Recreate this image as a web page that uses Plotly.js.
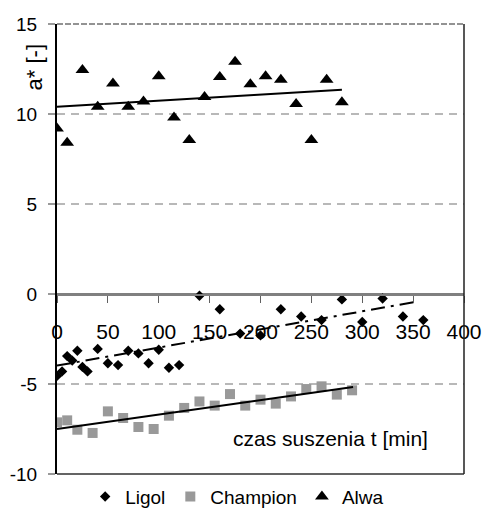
<!DOCTYPE html>
<html>
<head>
<meta charset="utf-8">
<script src="https://cdn.plot.ly/plotly-3.0.1.min.js"></script>
<style>html,body{margin:0;padding:0;background:#fff;}#chart{width:484px;height:511px;}</style>
</head>
<body>
<div id="chart"></div>
<script>
const seriesNames = ['Ligol', 'Champion', 'Alwa'];

const timeLigol = [0,5,10,15,20,25,30,40,50,60,70,80,90,100,110,120,140,160,180,200,220,240,260,280,300,320,340,360];
const aLigol = [-4.55,-4.3,-3.45,-3.7,-3.15,-4.05,-4.3,-3.05,-3.85,-3.95,-3.15,-3.3,-3.85,-3.1,-4.1,-3.95,-0.1,-0.85,-2.2,-2.3,-0.85,-1.25,-1.45,-0.3,-1.55,-0.25,-1.25,-1.45];

const timeChampion = [0,10,20,35,50,65,80,95,110,125,140,155,170,185,200,215,230,245,260,275,290];
const aChampion = [-7.13,-7.02,-7.54,-7.72,-6.52,-6.89,-7.39,-7.5,-6.76,-6.33,-5.97,-6.2,-5.56,-6.2,-5.87,-6.09,-5.69,-5.28,-5.13,-5.59,-5.35];

const timeAlwa = [0,10,25,40,55,70,85,100,115,130,145,160,175,190,205,220,235,250,265,280];
const aAlwa = [9.2,8.4,12.45,10.4,11.7,10.4,10.7,12.1,9.8,8.55,10.95,12.05,12.9,11.65,12.1,11.9,10.55,8.55,11.9,10.65];

// trend lines (end points)
const trendLigolT = [0, 352];
const trendLigolA = [-3.98, -0.44];
const trendChampionT = [0, 291];
const trendChampionA = [-7.5, -5.17];
const trendAlwaT = [0, 280];
const trendAlwaA = [10.4, 11.35];

const xTickVals = [0,50,100,150,200,250,300,350,400];
const xTickText = ['0','50','100','150','200','250','300','350','400'];
const yTickVals = [-10,-5,0,5,10,15];
const yTickText = ['-10','-5','0','5','10','15'];

const FONT = 'Arial, "Liberation Sans", sans-serif';

const traces = [
  {x: timeLigol, y: aLigol, name: seriesNames[0], type: 'scatter', mode: 'markers',
   marker: {symbol: 'diamond', size: 8, color: '#000000'}},
  {x: timeChampion, y: aChampion, name: seriesNames[1], type: 'scatter', mode: 'markers',
   marker: {symbol: 'square', size: 10, color: '#999999'}},
  {x: timeAlwa, y: aAlwa, name: seriesNames[2], type: 'scatter', mode: 'markers',
   marker: {symbol: 'triangle-up', size: 12, color: '#000000'}},
  {x: trendLigolT, y: trendLigolA, type: 'scatter', mode: 'lines', showlegend: false, hoverinfo: 'skip',
   line: {color: '#000000', width: 2, dash: '14px,6px,3px,6px'}},
  {x: trendChampionT, y: trendChampionA, type: 'scatter', mode: 'lines', showlegend: false, hoverinfo: 'skip',
   line: {color: '#000000', width: 2}},
  {x: trendAlwaT, y: trendAlwaA, type: 'scatter', mode: 'lines', showlegend: false, hoverinfo: 'skip',
   line: {color: '#000000', width: 2}}
];

const layout = {
  width: 484, height: 511,
  margin: {l: 57, r: 20, t: 24, b: 37, autoexpand: false},
  paper_bgcolor: '#ffffff', plot_bgcolor: '#ffffff',
  font: {family: FONT, color: '#000000'},
  showlegend: true,
  legend: {orientation: 'h', xref: 'container', yref: 'container', x: 0.49, xanchor: 'center',
           y: 0.028, yanchor: 'middle', font: {family: FONT, size: 19, color: '#000000'},
           bgcolor: 'rgba(0,0,0,0)', itemwidth: 30, tracegroupgap: 0},
  xaxis: {
    range: [0, 400], anchor: 'free', position: 0.4, side: 'bottom',
    tickvals: xTickVals, ticktext: xTickText,
    ticks: 'outside', ticklen: 7, tickcolor: '#606060', tickwidth: 1,
    showline: true, linecolor: '#808080', linewidth: 1.5,
    showgrid: false, zeroline: false,
    tickfont: {family: FONT, size: 21, color: '#000000'},
    ticklabelstandoff: 11
  },
  yaxis: {
    range: [-10, 15], tickvals: yTickVals, ticktext: yTickText,
    ticks: 'outside', ticklen: 7, tickcolor: '#999999', tickwidth: 1.5,
    showline: true, linecolor: '#000000', linewidth: 2,
    showgrid: true, gridcolor: '#b8b8b8', gridwidth: 1.5, griddash: '8px,6px',
    zeroline: true, zerolinecolor: '#808080', zerolinewidth: 1.5,
    tickfont: {family: FONT, size: 19, color: '#000000'},
    ticklabelstandoff: 7
  },
  shapes: [
    {type: 'line', xref: 'paper', yref: 'paper', x0: 0, x1: 1, y0: 1, y1: 1,
     line: {color: '#707070', width: 1.5, dash: '6px,2px'}},
    {type: 'line', xref: 'paper', yref: 'paper', x0: 0, x1: 1, y0: 0, y1: 0,
     line: {color: '#303030', width: 1.5}},
    {type: 'line', xref: 'paper', yref: 'paper', x0: 1, x1: 1, y0: 0, y1: 1,
     line: {color: '#202020', width: 1.5}}
  ],
  annotations: [
    {text: 'a* [-]', xref: 'paper', yref: 'paper', x: -0.056, y: 0.904, textangle: -90,
     showarrow: false, xanchor: 'center', yanchor: 'middle', font: {family: FONT, size: 22, color: '#000000'}},
    {text: 'czas suszenia t [min]', xref: 'paper', yref: 'paper', x: 0.671, y: 0.08,
     showarrow: false, xanchor: 'center', yanchor: 'middle', font: {family: FONT, size: 21, color: '#000000'}}
  ]
};

Plotly.newPlot('chart', traces, layout, {displayModeBar: false, staticPlot: true});
</script>
</body>
</html>
